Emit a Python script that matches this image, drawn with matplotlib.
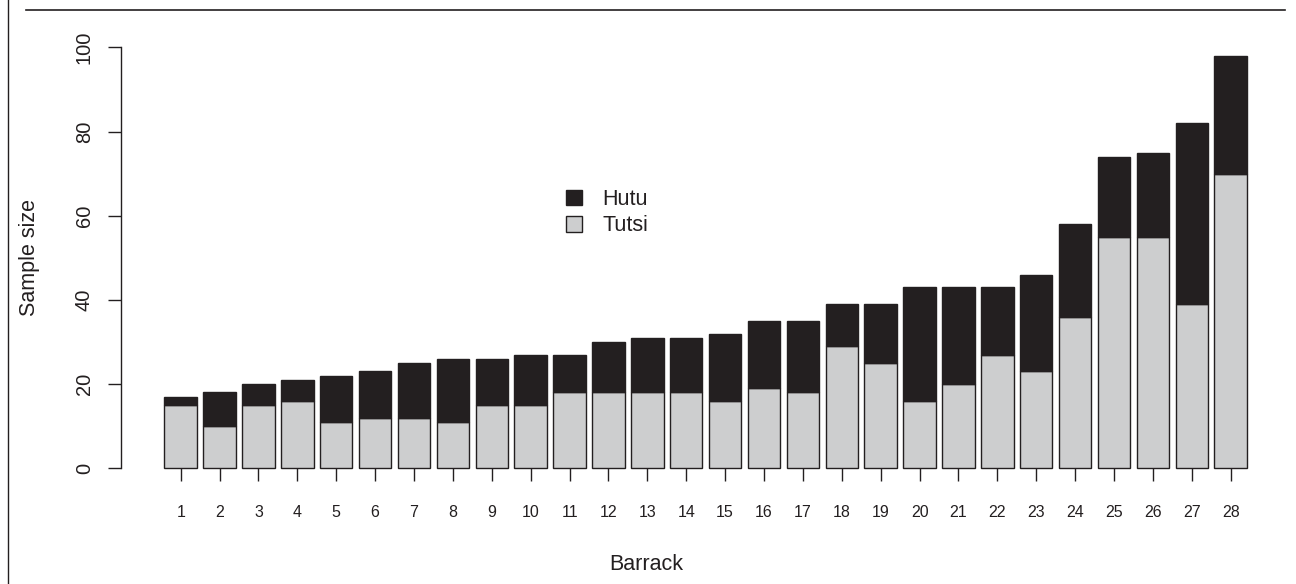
import numpy as np
import matplotlib
matplotlib.use("Agg")
import matplotlib.pyplot as plt
from matplotlib.patches import Patch
from matplotlib.lines import Line2D

# sample sizes per barrack
barracks = [str(i) for i in range(1, 29)]
tutsi = [15, 10, 15, 16, 11, 12, 12, 11, 15, 15, 18, 18, 18, 18,
         16, 19, 18, 29, 25, 16, 20, 27, 23, 36, 55, 55, 39, 70]
hutu = [2, 8, 5, 5, 11, 11, 13, 15, 11, 12, 9, 12, 13, 13,
        16, 16, 17, 10, 14, 27, 23, 16, 23, 22, 19, 20, 43, 28]
y_ticks = [0, 20, 40, 60, 80, 100]

DARK = "#231f20"
LIGHT = "#cdcecf"

plt.rcParams["font.family"] = ["Liberation Sans", "DejaVu Sans"]

W, H = 1296, 584
fig = plt.figure(figsize=(W / 100, H / 100), dpi=100)
ax = fig.add_axes([121 / W, 1 - 485.1 / H, (1289 - 121) / W, (485.1 - 30.5) / H])

x = np.arange(1, len(barracks) + 1)
width = 1 / 1.2
ax.bar(x, tutsi, width=width, color=LIGHT, edgecolor=DARK, linewidth=1.0)
ax.bar(x, hutu, bottom=tutsi, width=width, color=DARK, edgecolor=DARK, linewidth=1.0)

ax.set_xlim(-0.535, 29.5)
ax.set_ylim(-4, 104)

for s in ["top", "right"]:
    ax.spines[s].set_visible(False)
ax.spines["bottom"].set_position(("data", 0))
ax.spines["bottom"].set_color("none")
ax.spines["left"].set_bounds(0, 100)
ax.spines["left"].set_linewidth(1.0)
ax.spines["left"].set_color(DARK)

ax.set_xticks(x)
ax.set_xticklabels(barracks, fontsize=11.5, color=DARK)
ax.set_yticks(y_ticks)
ax.set_yticklabels([str(v) for v in y_ticks], fontsize=14.5, color=DARK,
                   rotation=90, va="center")
ax.tick_params(axis="x", length=9.5, width=1.0, color=DARK, pad=17)
ax.tick_params(axis="y", length=9.5, width=1.0, color=DARK, pad=10)

fig.text(646 / W, 1 - 565 / H, "Barrack", ha="center", va="center",
         fontsize=15.5, color=DARK)
fig.text(30 / W, 1 - 258 / H, "Sample size", ha="center", va="center",
         rotation=90, fontsize=15.5, color=DARK)

handles = [Patch(facecolor=DARK, edgecolor=DARK, linewidth=1.0, label="Hutu"),
           Patch(facecolor=LIGHT, edgecolor=DARK, linewidth=1.0, label="Tutsi")]
fig.legend(handles=handles, loc="upper left",
           bbox_to_anchor=(566 / W, 1 - 189 / H), bbox_transform=fig.transFigure,
           frameon=False, fontsize=15.5, handlelength=0.75, handleheight=0.75,
           handletextpad=0.95, labelspacing=0.25, borderpad=0, borderaxespad=0,
           labelcolor=DARK)

# page frame pieces
fig.add_artist(Line2D([8 / W, 8 / W], [0, 1], transform=fig.transFigure,
                      color=DARK, linewidth=1.0))
fig.add_artist(Line2D([26 / W, 1285 / W], [1 - 10 / H, 1 - 10 / H],
                      transform=fig.transFigure, color=DARK, linewidth=1.2))

fig.savefig("out.png", dpi=100)
